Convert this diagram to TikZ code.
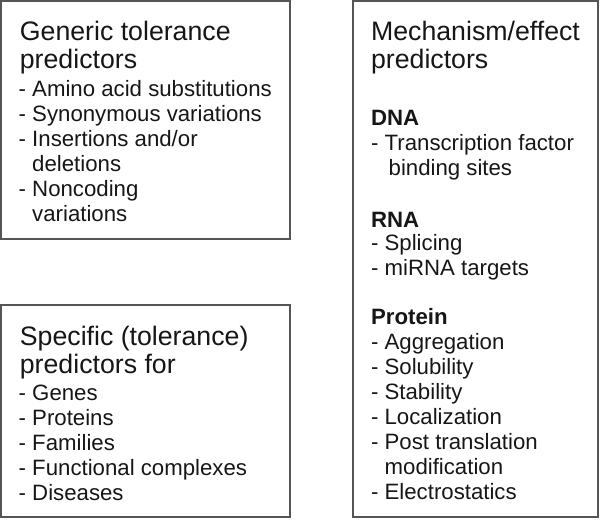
\documentclass[tikz,border=0pt]{standalone}
\usepackage{fontspec}
\setmainfont{Liberation Sans}
\usepackage{xcolor}
\usepackage{tikz}
\usetikzlibrary{positioning}
\definecolor{framecol}{HTML}{555555}
\definecolor{inkcol}{HTML}{161616}
\newcommand{\titlesize}{\fontsize{19.0}{19.9}\selectfont}
\newcommand{\itemsize}{\fontsize{15.8}{17.8}\selectfont}
\newcommand{\indt}{\hphantom{- }}

\begin{document}
\begin{tikzpicture}[text=inkcol,
  frame/.style={draw=framecol,line width=0.05cm,anchor=north west,
                inner sep=0pt,outer sep=0pt},
  ttl/.style={anchor=base west,inner sep=0pt,font=\titlesize},
  itm/.style={anchor=base west,inner sep=0pt,font=\itemsize},
  hdr/.style={itm,font=\itemsize\bfseries},
]
\useasboundingbox (0,0) rectangle (15,-12.975);

% the three frames
\node[frame,minimum width=7.225cm,minimum height=5.95cm] (genbox) at (0.025,-0.025) {};
\node[frame,minimum width=7.225cm,minimum height=5.3cm] (specbox) at (0.025,-7.625) {};
\node[frame,minimum width=6.125cm,minimum height=12.9cm] (mechbox) at (8.825,-0.025) {};

% generic tolerance predictors
\node[ttl] (gen-t1) at (0.49,-1.0) {Generic tolerance};
\node[ttl] (gen-t2) at (0.49,-1.7) {predictors};
\foreach \txt [count=\i] in {- Amino acid substitutions,- Synonymous variations,
    - Insertions and/or,\indt deletions,- Noncoding,\indt variations}
  \node[itm] (gen-\i) at (0.46,{-1.775-0.625*\i}) {\txt};

% specific predictors
\node[ttl] (spec-t1) at (0.49,-8.625) {Specific (tolerance)};
\node[ttl] (spec-t2) at (0.49,-9.325) {predictors for};
\foreach \txt [count=\i] in {- Genes,- Proteins,- Families,
    - Functional complexes,- Diseases}
  \node[itm] (spec-\i) at (0.46,{-9.375-0.625*\i}) {\txt};

% mechanism/effect predictors
\node[ttl] (mech-t1) at (9.27,-1.0) {Mechanism/effect};
\node[ttl] (mech-t2) at (9.27,-1.7) {predictors};
\node[hdr] (dna) at (9.27,-3.125) {DNA};
\node[itm] (dna-1) at (9.27,-3.75) {- Transcription factor};
\node[itm] (dna-2) at (9.27,-4.375) {\indt\hspace{0.1cm}binding sites};
\node[hdr] (rna) at (9.27,-5.675) {RNA};
\node[itm] (rna-1) at (9.27,-6.25) {- Splicing};
\node[itm] (rna-2) at (9.27,-6.875) {- miRNA targets};
\node[hdr] (prot) at (9.27,-8.1) {Protein};
\foreach \txt [count=\i] in {- Aggregation,- Solubility,- Stability,- Localization,
    - Post translation,\indt modification,- Electrostatics}
  \node[itm] (prot-\i) at (9.27,{-8.1-0.625*\i}) {\txt};
\end{tikzpicture}
\end{document}
